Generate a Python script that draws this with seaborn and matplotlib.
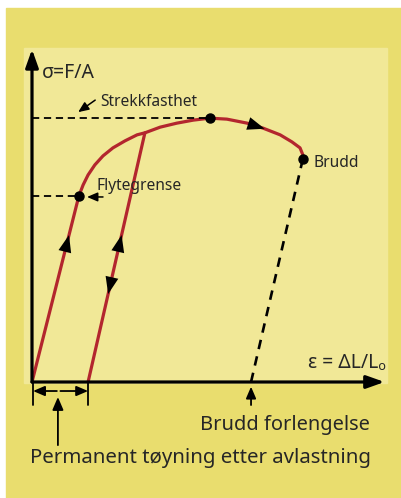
import numpy as np
import matplotlib
matplotlib.use("Agg")
import matplotlib.pyplot as plt
import matplotlib.patches as mpatches
import seaborn as sns
import pandas as pd

# ---------------- data (strain, stress in relative units) ----------------
load_strain = [0.0, 0.132, 0.144, 0.158, 0.177, 0.200, 0.228, 0.262, 0.296, 0.318,
               0.361, 0.408, 0.454, 0.501, 0.549, 0.606, 0.651, 0.699, 0.732, 0.755,
               0.763, 0.763]
load_stress = [0.0, 0.557, 0.590, 0.620, 0.650, 0.677, 0.701, 0.722, 0.740, 0.746,
               0.763, 0.775, 0.784, 0.790, 0.787, 0.775, 0.760, 0.740, 0.719, 0.701,
               0.680, 0.668]
unload_strain = [0.158, 0.318]
unload_stress = [0.0, 0.746]
yield_pt = (0.132, 0.557)
uts_pt = (0.501, 0.790)
break_pt = (0.763, 0.668)
permanent_strain = 0.158
break_elongation = 0.617

labels = {
    "stress": "σ=F/A",
    "strain": "ε = ΔL/Lₒ",
    "uts": "Strekkfasthet",
    "yield": "Flytegrense",
    "break": "Brudd",
    "elong": "Brudd forlengelse",
    "perm": "Permanent tøyning etter avlastning",
}

# ---------------- style ----------------
sns.set_theme(style="white")
plt.rcParams["font.family"] = ["Noto Sans", "DejaVu Sans"]

RED = "#B3262E"
OUTER = "#E9DD6E"
INNER = "#F1E897"
W, H = 402, 498

fig = plt.figure(figsize=(W / 100, H / 100), dpi=100)
fig.patch.set_facecolor("white")
fig.patches.append(mpatches.Rectangle((6 / W, 0), (W - 6) / W, (H - 8) / H,
                                      transform=fig.transFigure, color=OUTER, zorder=-3))
fig.patches.append(mpatches.Rectangle((24 / W, (H - 383) / H), (387 - 24) / W, (383 - 48) / H,
                                      transform=fig.transFigure, color=INNER, zorder=-2))

ax = fig.add_axes([32 / W, (H - 382) / H, 355 / W, 334 / H])
ax.patch.set_alpha(0)


def arrow(xy_from, xy_to, hl=0.9, hw=0.4, ms=14, lw=1.5, style="-|>"):
    ax.annotate("", xy=xy_to, xytext=xy_from, annotation_clip=False,
                arrowprops=dict(arrowstyle=f"{style},head_length={hl},head_width={hw}",
                                color="black", lw=lw, shrinkA=0, shrinkB=0,
                                mutation_scale=ms))


def point_along(xs, ys, t):
    xs = np.asarray(xs, float)
    ys = np.asarray(ys, float)
    seg = np.hypot(np.diff(xs * 355), np.diff(ys * 334))
    s = np.concatenate([[0], np.cumsum(seg)])
    d = t * s[-1]
    return (np.interp(d, s, xs), np.interp(d, s, ys))


def head_on(xs, ys, t0, t1):
    arrow(point_along(xs, ys, t0), point_along(xs, ys, t1), hl=0.95, hw=0.36, ms=13, lw=0)


# curves
df_load = pd.DataFrame({"strain": load_strain, "stress": load_stress})
df_unload = pd.DataFrame({"strain": unload_strain, "stress": unload_stress})
sns.lineplot(data=df_load, x="strain", y="stress", sort=False, estimator=None,
             color=RED, lw=2.3, ax=ax, solid_joinstyle="round")
sns.lineplot(data=df_unload, x="strain", y="stress", sort=False, estimator=None,
             color=RED, lw=2.3, ax=ax)
ax.set_xlim(0, 1)
ax.set_ylim(0, 1)
ax.axis("off")

# axes arrows
arrow((0, 0), (0.0, 0.996), hl=0.9, hw=0.32, ms=12, lw=2.3)
arrow((0, 0), (0.993, 0.0), hl=0.9, hw=0.32, ms=12, lw=2.3)

# dashed reference lines
ax.plot([0, uts_pt[0]], [uts_pt[1], uts_pt[1]], ls=(0, (4, 2.6)), color="black", lw=1.3)
ax.plot([0, yield_pt[0]], [yield_pt[1], yield_pt[1]], ls=(0, (4, 2.6)), color="black", lw=1.3)
ax.plot([break_pt[0], break_elongation], [break_pt[1], 0], ls=(0, (3.6, 2.8)), color="black", lw=1.9)

# direction arrowheads
head_on(load_strain[:2], load_stress[:2], 0.70, 0.79)
head_on(unload_strain, unload_stress, 0.52, 0.59)
head_on(unload_strain, unload_stress, 0.42, 0.353)
head_on(load_strain[14:18], load_stress[14:18], 0.38, 0.70)

# points
ax.plot(*zip(yield_pt, uts_pt, break_pt), "o", color="black", ms=6.5, zorder=5)

# labels
ax.text(0.028, 0.910, labels["stress"], fontsize=14, va="baseline", ha="left")
ax.text(0.997, 0.042, labels["strain"], fontsize=14, va="baseline", ha="right")
ax.text(0.192, 0.826, labels["uts"], fontsize=11.2, va="baseline", ha="left")
ax.text(0.183, 0.575, labels["yield"], fontsize=11.2, va="baseline", ha="left")
ax.text(0.792, 0.644, labels["break"], fontsize=11.2, va="baseline", ha="left")
ax.text(0.473, -0.144, labels["elong"], fontsize=14.4, va="baseline", ha="left")
ax.text(-0.006, -0.243, labels["perm"], fontsize=14.7, va="baseline", ha="left")

# pointer arrows
arrow((0.178, 0.844), (0.130, 0.808), hl=0.7, hw=0.3, ms=9, lw=1.1)
arrow((0.200, 0.554), (0.155, 0.554), hl=0.7, hw=0.3, ms=9, lw=1.1)
arrow((0.073, -0.189), (0.073, -0.045), hl=0.7, hw=0.3, ms=11, lw=1.3)
arrow((break_elongation, -0.069), (break_elongation, -0.014), hl=0.7, hw=0.3, ms=10, lw=1.3)

# permanent-strain dimension
arrow((0.07, -0.027), (0.003, -0.027), hl=0.7, hw=0.3, ms=10, lw=1.3)
arrow((0.08, -0.027), (permanent_strain, -0.027), hl=0.7, hw=0.3, ms=10, lw=1.3)
for xv in (0.003, permanent_strain):
    ax.plot([xv, xv], [-0.003, -0.069], color="black", lw=1.3, clip_on=False)

fig.savefig("out.png", dpi=100)
